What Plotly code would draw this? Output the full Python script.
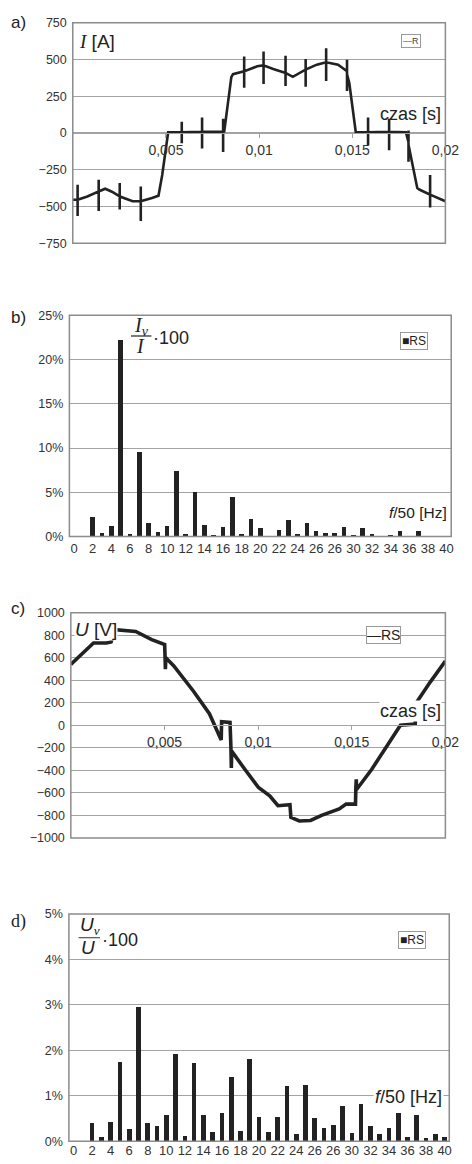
import plotly.graph_objects as go

W, H = 472, 1164

# ---------------- DATA ----------------
# (a) phase current I [A] versus time [ms]  (vertical spikes are repeated time stamps)
cur_t_ms = [0.00, 0.20,
            0.26, 0.26, 0.26, 0.26,
            0.78, 1.30,
            1.39, 1.39, 1.39, 1.39,
            1.74, 2.10,
            2.52, 2.52, 2.52, 2.52,
            3.21,
            3.65, 3.65, 3.65, 3.65,
            4.25, 4.60, 4.80, 5.12,
            5.85, 5.85, 5.85, 5.85,
            6.94, 6.94, 6.94, 6.94,
            8.07, 8.07, 8.07, 8.07,
            8.13, 8.51, 8.60,
            9.20, 9.20, 9.20, 9.20,
            9.90,
            10.24, 10.24, 10.24, 10.24,
            10.76,
            11.42, 11.42, 11.42, 11.42,
            11.81,
            12.50, 12.50, 12.50, 12.50,
            13.10,
            13.60, 13.60, 13.60, 13.60,
            14.24, 14.58,
            14.72, 14.72, 14.72, 14.72,
            14.84, 15.19,
            15.85, 15.85, 15.85, 15.85,
            16.98, 16.98, 16.98, 16.98,
            17.88,
            18.02, 18.02, 18.02, 18.02,
            18.49, 18.60,
            19.18, 19.18, 19.18, 19.18,
            20.00]
cur_i = [-455, -452,
         -454, -353, -566, -454,
         -432, -405,
         -398, -319, -532, -398,
         -380, -400,
         -432, -340, -521, -432,
         -465,
         -465, -365, -600, -465,
         -443, -427, -286, 5,
         5, 77, -70, 5,
         8, 106, -106, 8,
         8, 97, -129, 8,
         10, 380, 400,
         420, 521, 308, 420,
         454,
         460, 555, 333, 460,
         436,
         409, 526, 319, 409,
         382,
         432, 503, 315, 432,
         465,
         481, 577, 353, 481,
         465, 436,
         420, 499, 286, 400,
         342, 5,
         5, 106, -84, 5,
         8, 97, -118, 8,
         5,
         -62, 17, -196, -80,
         -375, -385,
         -420, -286, -508, -420,
         -465]

# (c) line voltage U [V] versus time [ms]
volt_t_ms = [0.00, 0.69, 1.21, 1.90, 2.15, 2.38, 3.46, 4.32, 5.01,
             5.03, 5.05, 5.07, 5.50, 6.00, 6.56, 7.40, 8.03, 8.05, 8.50,
             8.55, 8.57, 8.59, 9.33, 10.02, 10.62, 11.06, 11.70, 11.75,
             12.20, 12.80, 13.39, 14.33, 14.70, 15.20, 15.22, 15.24, 15.26,
             16.06, 16.93, 17.60, 18.39, 18.41, 19.18, 20.00]
volt_u = [541, 644, 731, 731, 740, 848, 833, 760, 716,
          614, 497, 600, 527, 425, 300, 103, -130, 31, 25,
          -203, -379, -230, -400, -553, -626, -714, -705, -817,
          -850, -845, -800, -743, -700, -700, -553, -480, -570,
          -393, -174, 0, 10, 191, 381, 571]

# (b), (d) harmonic spectra, harmonic orders 2..40
harm_order = list(range(2, 41))
harm_i_pct = [2.24, 0.37, 1.16, 22.2, 0.30, 9.55, 1.50, 0.52, 1.16, 7.39,
              0.30, 5.07, 1.34, 0.22, 1.04, 4.48, 0.30, 2.01, 0.97, 0.07,
              0.71, 1.87, 0.30, 1.49, 0.63, 0.41, 0.41, 1.04, 0.15, 0.93,
              0.30, 0.07, 0.15, 0.60, 0.07, 0.63, 0.10, 0.07, 0.05]
harm_u_pct = [0.39, 0.09, 0.43, 1.75, 0.27, 2.96, 0.40, 0.34, 0.57, 1.91,
              0.11, 1.73, 0.57, 0.21, 0.62, 1.42, 0.22, 1.81, 0.54, 0.21,
              0.53, 1.21, 0.16, 1.23, 0.51, 0.30, 0.35, 0.77, 0.19, 0.81,
              0.33, 0.16, 0.30, 0.61, 0.09, 0.58, 0.07, 0.16, 0.09]

# tick labels
time_tick_vals = [0.005, 0.01, 0.015, 0.02]
time_tick_text = ["0,005", "0,01", "0,015", "0,02"]
cur_tick_vals = [-750, -500, -250, 0, 250, 500, 750]
cur_tick_text = ["\u2212750", "\u2212500", "\u2212250", "0", "250", "500", "750"]
volt_tick_vals = [-1000, -800, -600, -400, -200, 0, 200, 400, 600, 800, 1000]
volt_tick_text = ["\u22121000", "\u2212800", "\u2212600", "\u2212400", "\u2212200", "0",
                  "200", "400", "600", "800", "1000"]
harm_tick_vals = list(range(0, 41, 2))
harm_tick_text = ["0", "2", "4", "6", "8", "10", "12", "14", "16", "18", "20",
                  "22", "24", "26", "26", "30", "32", "34", "36", "38", "40"]
pct_i_tick_vals = [0, 5, 10, 15, 20, 25]
pct_i_tick_text = ["0%", "5%", "10%", "15%", "20%", "25%"]
pct_u_tick_vals = [0, 1, 2, 3, 4, 5]
pct_u_tick_text = ["0%", "1%", "2%", "3%", "4%", "5%"]

# ---------------- STYLE ----------------
SANS = "Liberation Sans, Arial, sans-serif"
SERIF = "Liberation Serif, Times New Roman, serif"
GRID = "#a3a3a3"
FRAME = "#8c8c8c"
TXT = "#333333"
INK = "#222222"


def px(x):
    return x / W


def py(y):
    return 1 - y / H


# pixel boxes of the 4 plot areas: (left, top, right, bottom)
boxes = {
    "a": (75, 16, 459, 239),
    "b": (71.5, 312, 465, 536),
    "c": (73, 613, 459, 841),
    "d": (71, 918, 463, 1148),
}

fig = go.Figure()

t_a = [t / 1000 for t in cur_t_ms]
t_c = [t / 1000 for t in volt_t_ms]

fig.add_trace(go.Scatter(x=t_a, y=cur_i, mode="lines", name="R",
                         line=dict(color=INK, width=2.6), xaxis="x", yaxis="y",
                         showlegend=False))
fig.add_trace(go.Bar(x=harm_order, y=harm_i_pct, name="RS", width=0.5,
                     marker=dict(color=INK, line=dict(width=0)),
                     xaxis="x2", yaxis="y2", showlegend=False))
fig.add_trace(go.Scatter(x=t_c, y=volt_u, mode="lines", name="RS",
                         line=dict(color=INK, width=3.6), xaxis="x3", yaxis="y3",
                         showlegend=False))
fig.add_trace(go.Bar(x=harm_order, y=harm_u_pct, name="RS", width=0.5,
                     marker=dict(color=INK, line=dict(width=0)),
                     xaxis="x4", yaxis="y4", showlegend=False))


def ydom(k):
    l, t, r, b = boxes[k]
    return [py(b), py(t)]


def xdom(k):
    l, t, r, b = boxes[k]
    return [px(l), px(r)]


def mid(k):
    d = ydom(k)
    return (d[0] + d[1]) / 2


yax_common = dict(showgrid=True, gridcolor=GRID, gridwidth=1, zeroline=False,
                  showline=False, ticks="", ticklabelstandoff=5,
                  tickfont=dict(family=SANS, size=12.5, color=TXT), fixedrange=True)

fig.update_layout(
    width=W, height=H, autosize=False,
    margin=dict(l=0, r=0, t=0, b=0),
    paper_bgcolor="white", plot_bgcolor="white",
    bargap=0,
    xaxis=dict(domain=xdom("a"), range=[0, 0.02], anchor="free", position=mid("a"),
               tickvals=time_tick_vals, ticktext=time_tick_text, ticks="outside",
               ticklen=4, tickcolor=GRID, showline=True, linecolor=GRID,
               showgrid=False, zeroline=False,
               tickfont=dict(family=SANS, size=14, color=TXT)),
    yaxis=dict(domain=ydom("a"), range=[-750, 750], anchor="x",
               tickvals=cur_tick_vals, ticktext=cur_tick_text, **yax_common),
    xaxis2=dict(domain=xdom("b"), range=[-0.5, 40.5], anchor="y2",
                tickvals=harm_tick_vals, ticktext=harm_tick_text, ticks="",
                showgrid=False, zeroline=False, showline=False, ticklabelstandoff=2,
                tickfont=dict(family=SANS, size=13, color=TXT)),
    yaxis2=dict(domain=ydom("b"), range=[0, 25], anchor="x2",
                tickvals=pct_i_tick_vals, ticktext=pct_i_tick_text, **yax_common),
    xaxis3=dict(domain=xdom("c"), range=[0, 0.02], anchor="free", position=mid("c"),
                tickvals=time_tick_vals, ticktext=time_tick_text, ticks="outside",
                ticklen=4, tickcolor=GRID, showline=True, linecolor=GRID,
                showgrid=False, zeroline=False,
                tickfont=dict(family=SANS, size=14, color=TXT)),
    yaxis3=dict(domain=ydom("c"), range=[-1000, 1000], anchor="x3",
                tickvals=volt_tick_vals, ticktext=volt_tick_text, **yax_common),
    xaxis4=dict(domain=xdom("d"), range=[-0.5, 40.5], anchor="y4",
                tickvals=harm_tick_vals, ticktext=harm_tick_text, ticks="",
                showgrid=False, zeroline=False, showline=False, ticklabelstandoff=0,
                tickfont=dict(family=SANS, size=13, color=TXT)),
    yaxis4=dict(domain=ydom("d"), range=[0, 5], anchor="x4",
                tickvals=pct_u_tick_vals, ticktext=pct_u_tick_text, **yax_common),
)

shapes = []
for k in "abcd":
    l, t, r, b = boxes[k]
    shapes.append(dict(type="rect", xref="paper", yref="paper",
                       x0=px(l), x1=px(r), y0=py(b), y1=py(t),
                       line=dict(color=FRAME, width=1.5), layer="above"))
# fraction bars
shapes.append(dict(type="line", xref="paper", yref="paper", x0=px(135), x1=px(156),
                   y0=py(333), y1=py(333), line=dict(color=INK, width=1.2)))
shapes.append(dict(type="line", xref="paper", yref="paper", x0=px(81), x1=px(103),
                   y0=py(942), y1=py(942), line=dict(color="#555", width=1.2)))
fig.update_layout(shapes=shapes)

ann = []


def A(text, x, y, size, family=SANS, xanchor="center", yanchor="middle", **kw):
    d = dict(text=text, x=px(x), y=py(y), xref="paper", yref="paper",
             showarrow=False, xanchor=xanchor, yanchor=yanchor,
             font=dict(family=family, size=size, color=kw.pop("color", INK)))
    d.update(kw)
    ann.append(d)


# panel letters
A("a)", 9, 16, 17, xanchor="left")
A("b)", 9, 314, 17, xanchor="left")
A("c)", 9, 609, 17, xanchor="left")
A("d)", 9, 926, 18, family=SERIF, xanchor="left")

# axis captions inside plots
A("<span style='font-family:Liberation Serif'><i>I</i></span> [A]", 79, 35, 19,
  xanchor="left", color=INK)
A("czas [s]", 423, 108, 18, color=INK)
A("<i>U</i> [V]", 76, 630, 19, xanchor="left", bgcolor="white", borderpad=0)
A("czas [s]", 423, 713, 18, bgcolor="white", borderpad=0)
A("<i>f</i>/50 [Hz]", 431, 512, 15.5)
A("<i>f</i>/50 [Hz]", 421, 1102.8, 18, bgcolor="white", borderpad=1)

# fractions
A("<i>I</i><sub><i>v</i></sub>", 146, 323, 20, family=SERIF)
A("<i>I</i>", 145, 343, 20, family=SERIF)
A("\u00b7100", 156, 335, 18, xanchor="left")
A("<i>U</i><sub><span style='font-family:Liberation Serif'><i>v</i></span></sub>",
  93, 930, 19)
A("<i>U</i>", 91, 952, 19)
A("\u00b7100", 103, 944, 18, xanchor="left")

# legend boxes
A("\u2014R", 423.5, 34.5, 9, bordercolor="#999", borderwidth=1, borderpad=1,
  bgcolor="white", color="#444")
A("\u25a0RS", 426.5, 338.5, 12, bordercolor="#999", borderwidth=1, borderpad=1,
  bgcolor="white")
A("\u2014RS", 395.5, 635.5, 14, bordercolor="#999", borderwidth=1, borderpad=0,
  bgcolor="white")
A("\u25a0RS", 425, 944, 12, bordercolor="#999", borderwidth=1, borderpad=1,
  bgcolor="white")

fig.update_layout(annotations=ann)

fig.write_html(
    "out.html",
    config={"displayModeBar": False, "staticPlot": True},
    post_script="document.body.style.margin='0';document.body.style.overflow='hidden';",
)
